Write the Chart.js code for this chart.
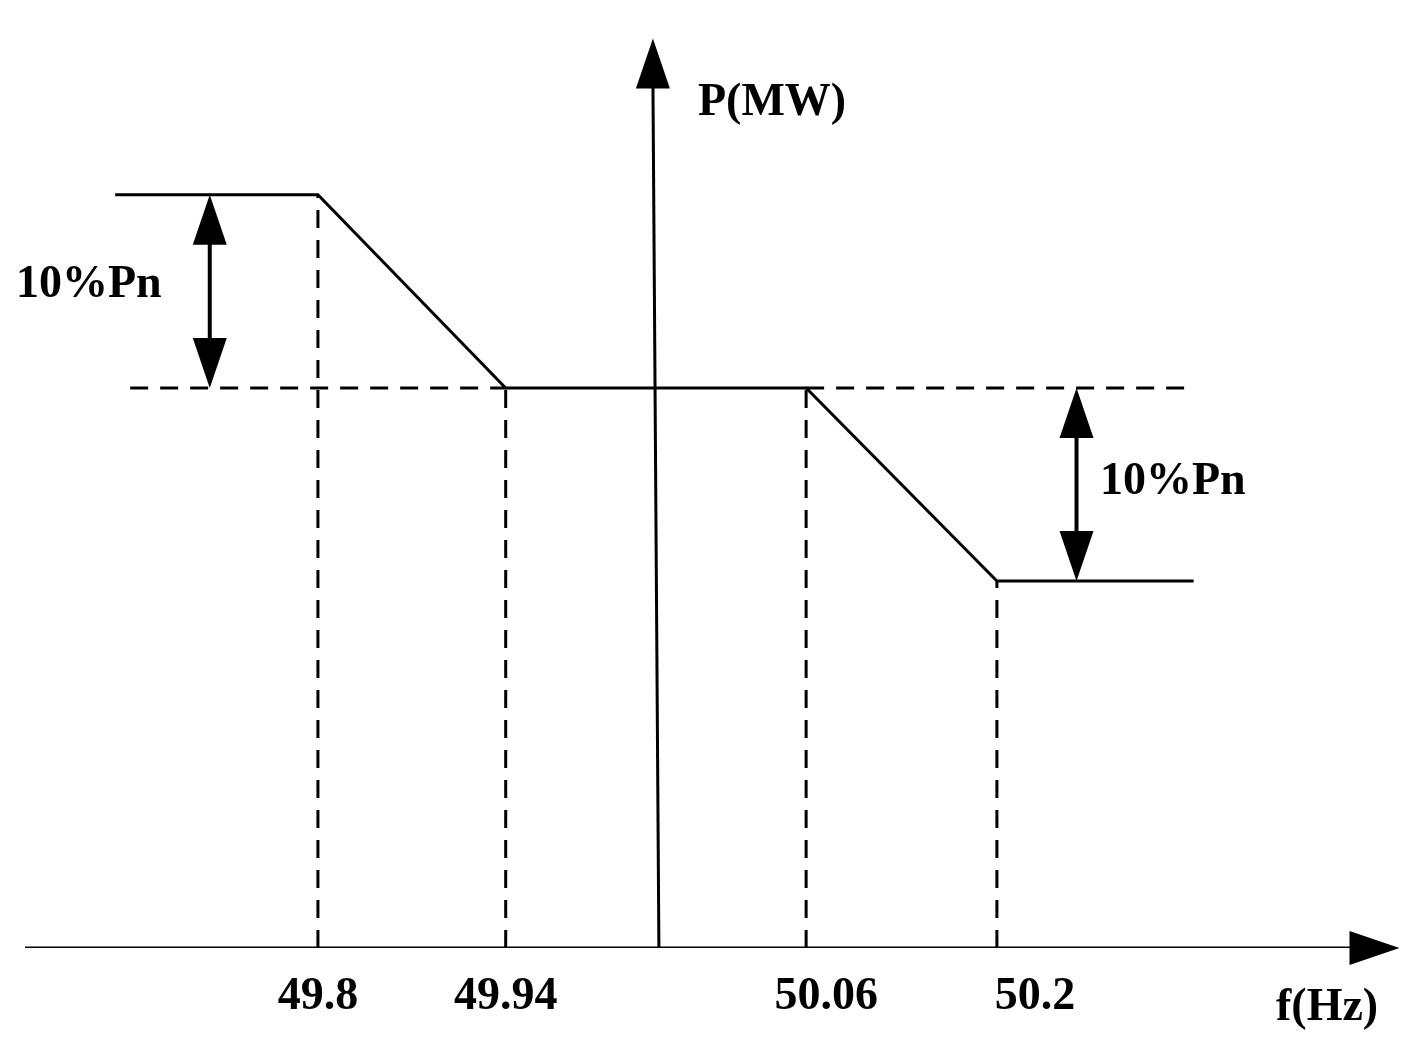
<!DOCTYPE html>
<html><head><meta charset="utf-8">
<script src="https://cdn.jsdelivr.net/npm/chart.js@4"></script>
<style>html,body{margin:0;background:#fff}#wrap{width:1424px;height:1052px}</style>
</head><body><div id="wrap"><canvas id="c"></canvas></div>
<script>
// schematic positions on the f axis (center 50 Hz = 0), the drawing is not to scale
const freqLabels = ['49.8', '49.94', '50.06', '50.2'];
const freqPos = [-2.25, -1, 1, 2.27];
// power levels, in units where 10 = 10%Pn
const pHigh = 39, pMid = 29, pLow = 19;
const lineStart = -3.6, lineEnd = 3.58;

const solid = {borderColor: '#000', borderWidth: 3, pointRadius: 0, fill: false, tension: 0};
const dash = Object.assign({}, solid, {borderDash: [18, 12]});

const datasets = [
    Object.assign({data: [{x: lineStart, y: pHigh}, {x: freqPos[0], y: pHigh}, {x: freqPos[1], y: pMid},
        {x: freqPos[2], y: pMid}, {x: freqPos[3], y: pLow}, {x: lineEnd, y: pLow}]}, solid),
    Object.assign({data: [{x: -3.5, y: pMid}, {x: freqPos[1], y: pMid}]}, dash),
    Object.assign({data: [{x: freqPos[2], y: pMid}, {x: lineEnd, y: pMid}]}, dash),
    Object.assign({data: [{x: freqPos[0], y: 0}, {x: freqPos[0], y: pHigh}]}, dash),
    Object.assign({data: [{x: freqPos[1], y: 0}, {x: freqPos[1], y: pMid}]}, dash),
    Object.assign({data: [{x: freqPos[2], y: 0}, {x: freqPos[2], y: pMid}]}, dash),
    Object.assign({data: [{x: freqPos[3], y: 0}, {x: freqPos[3], y: pLow}]}, dash),
    // axes
    Object.assign({data: [{x: -4.2, y: 0}, {x: 4.7, y: 0}]}, solid),
    Object.assign({data: [{x: -0.02, y: 45}, {x: 0.02, y: 0}]}, solid),
];

const font = 'bold 46px "Liberation Serif", "Times New Roman", serif';

function arrowHead(ctx, x, y, dir) {
    // dir: 'up','down','right'
    ctx.beginPath();
    if (dir === 'up') { ctx.moveTo(x, y); ctx.lineTo(x - 17, y + 50); ctx.lineTo(x + 17, y + 50); }
    if (dir === 'down') { ctx.moveTo(x, y); ctx.lineTo(x - 17, y - 50); ctx.lineTo(x + 17, y - 50); }
    if (dir === 'right') { ctx.moveTo(x, y); ctx.lineTo(x - 50, y - 17); ctx.lineTo(x - 50, y + 17); }
    ctx.closePath();
    ctx.fill();
}

const decor = {
    id: 'decor',
    afterDatasetsDraw(chart) {
        const ctx = chart.ctx, sx = chart.scales.x, sy = chart.scales.y;
        ctx.save();
        ctx.fillStyle = '#000';
        ctx.strokeStyle = '#000';
        ctx.lineWidth = 4;
        // axis arrowheads
        arrowHead(ctx, sx.getPixelForValue(4.95), sy.getPixelForValue(0), 'right');
        arrowHead(ctx, sx.getPixelForValue(-0.02), sy.getPixelForValue(47.1), 'up');
        // double arrows for 10%Pn
        [[-2.97, pMid, pHigh], [2.8, pLow, pMid]].forEach(([x, a, b]) => {
            const px = sx.getPixelForValue(x), y1 = sy.getPixelForValue(b), y2 = sy.getPixelForValue(a);
            ctx.beginPath(); ctx.moveTo(px, y1 + 40); ctx.lineTo(px, y2 - 40); ctx.stroke();
            arrowHead(ctx, px, y1, 'up');
            arrowHead(ctx, px, y2, 'down');
        });
        ctx.font = font;
        ctx.textBaseline = 'middle';
        ctx.textAlign = 'left';
        ctx.fillText('10%Pn', 16, sy.getPixelForValue(34.3));
        ctx.fillText('10%Pn', 1100, sy.getPixelForValue(24.1));
        ctx.fillText('P(MW)', 698, 103);
        ctx.fillText('f(Hz)', 1276, 1008);
        ctx.textAlign = 'center';
        freqLabels.forEach((t, i) => ctx.fillText(t, sx.getPixelForValue(freqPos[i]) - (i === 2 ? -20 : i === 3 ? -38 : 0), 997));
        ctx.restore();
    }
};

new Chart(document.getElementById('c'), {
    type: 'line',
    data: {datasets},
    options: {
        responsive: true,
        maintainAspectRatio: false,
        animation: false,
        devicePixelRatio: 1,
        layout: {padding: {left: 25, right: 17, top: 21, bottom: 104}},
        plugins: {legend: {display: false}, tooltip: {enabled: false}},
        scales: {
            x: {type: 'linear', min: -4.2, max: 5.0, display: false},
            y: {type: 'linear', min: 0, max: 48, display: false}
        }
    },
    plugins: [decor]
});
</script>
</body></html>
